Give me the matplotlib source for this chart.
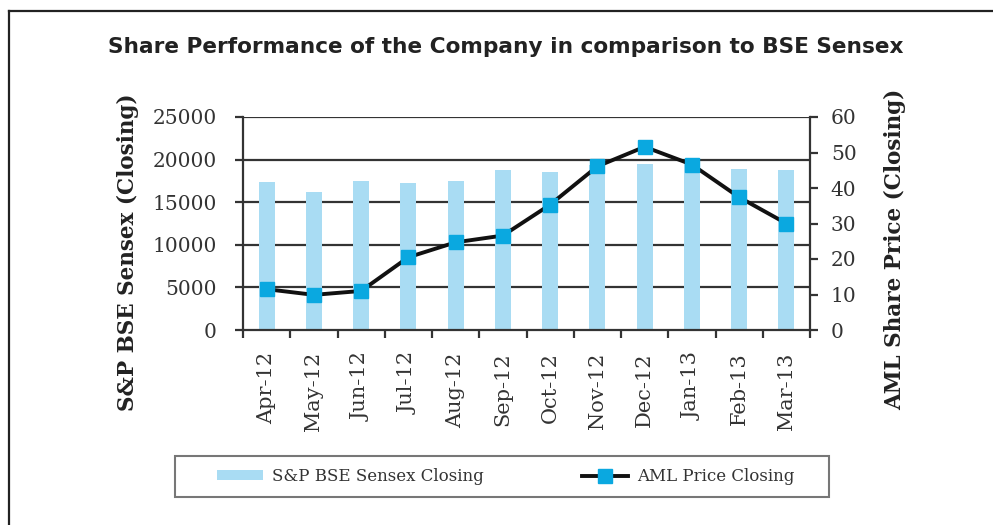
import matplotlib
matplotlib.use("Agg")
import matplotlib.pyplot as plt
from matplotlib.lines import Line2D
from matplotlib.patches import Rectangle
import numpy as np

months = ["Apr-12", "May-12", "Jun-12", "Jul-12", "Aug-12", "Sep-12",
          "Oct-12", "Nov-12", "Dec-12", "Jan-13", "Feb-13", "Mar-13"]
sensex = [17318, 16219, 17430, 17236, 17430, 18763,
          18505, 19340, 19427, 19895, 18862, 18836]
aml_price = [11.5, 9.9, 11.0, 20.5, 24.7, 26.6,
             35.3, 46.1, 51.6, 46.6, 37.4, 30.0]

W, H = 993, 525
fig = plt.figure(figsize=(W / 100, H / 100), dpi=100)
fig.patch.set_facecolor("white")

# outer frame (top and left only)
fig.add_artist(Line2D([9 / W, 1], [1 - 11 / H, 1 - 11 / H], color="#222222", lw=1.6))
fig.add_artist(Line2D([9 / W, 9 / W], [0, 1 - 11 / H], color="#222222", lw=1.6))

ax = fig.add_axes([243 / W, 1 - 330 / H, (810 - 243) / W, (330 - 117) / H])
x = np.arange(len(months))

grid_col = "#333333"
txt_col = "#333333"
bars = ax.bar(x, sensex, width=0.34, color="#a9dcf3", zorder=2,
              label="S&P BSE Sensex Closing")
ax.set_ylim(0, 25000)
ax.set_xlim(-0.5, len(months) - 0.5)
ax.set_yticks(range(0, 25001, 5000))
for yv in range(5000, 25001, 5000):
    ax.axhline(yv, color=grid_col, lw=1.6, zorder=1)

ax.set_xticks(x)
ax.set_xticklabels(months, rotation=90, family="DejaVu Serif", fontsize=15, color=txt_col)
ax.tick_params(axis="x", length=0, pad=16)
ax.set_xticks(np.arange(-0.5, len(months), 1), minor=True)
ax.tick_params(axis="x", which="minor", length=6, width=1.6, color=grid_col, direction="out")
ax.tick_params(axis="y", length=6, width=1.6, color=grid_col, pad=13)
for lab in ax.get_yticklabels():
    lab.set_family("DejaVu Serif")
    lab.set_fontsize(14.5)
    lab.set_color(txt_col)

for side in ["top", "right"]:
    ax.spines[side].set_visible(False)
for side in ["left", "bottom"]:
    ax.spines[side].set_color(grid_col)
    ax.spines[side].set_linewidth(1.6)

ax2 = ax.twinx()
line, = ax2.plot(x, aml_price, color="#111111", lw=2.8, marker="s", markersize=9.5,
                 markerfacecolor="#0aa8e0", markeredgecolor="#0aa8e0", zorder=5,
                 label="AML Price Closing")
ax2.set_ylim(0, 60)
ax2.set_yticks(range(0, 61, 10))
ax2.tick_params(axis="y", length=6, width=1.6, color=grid_col, pad=9)
for lab in ax2.get_yticklabels():
    lab.set_family("DejaVu Serif")
    lab.set_fontsize(14.5)
    lab.set_color(txt_col)
for side in ["top", "left", "bottom"]:
    ax2.spines[side].set_visible(False)
ax2.spines["right"].set_color(grid_col)
ax2.spines["right"].set_linewidth(1.6)

fig.text(506 / W, 1 - 47 / H, "Share Performance of the Company in comparison to BSE Sensex",
         ha="center", va="center", fontsize=15.6, fontweight="bold", family="DejaVu Sans",
         color="#222222")
fig.text(128 / W, 1 - 252 / H, "S&P BSE Sensex (Closing)", rotation=90, ha="center", va="center",
         fontsize=15.5, fontweight="bold", family="DejaVu Serif", color="#222222")
fig.text(895 / W, 1 - 249 / H, "AML Share Price (Closing)", rotation=90, ha="center", va="center",
         fontsize=15.5, fontweight="bold", family="DejaVu Serif", color="#222222")

# legend frame drawn separately, entries placed inside it
fig.add_artist(Rectangle((175 / W, 1 - 497 / H), (829 - 175) / W, 41 / H,
                         transform=fig.transFigure, fill=False,
                         edgecolor="#777777", lw=1.5))
leg = fig.legend([bars, line], ["S&P BSE Sensex Closing", "AML Price Closing"],
                 loc="center left", bbox_to_anchor=(217 / W, 1 - 476.5 / H),
                 ncol=2, frameon=False, borderaxespad=0, borderpad=0,
                 prop={"family": "DejaVu Serif", "size": 12}, handlelength=2.76,
                 handleheight=0.5, handletextpad=0.54, columnspacing=5.9, numpoints=1)
for t in leg.get_texts():
    t.set_color(txt_col)

fig.savefig("out.png", dpi=100)
